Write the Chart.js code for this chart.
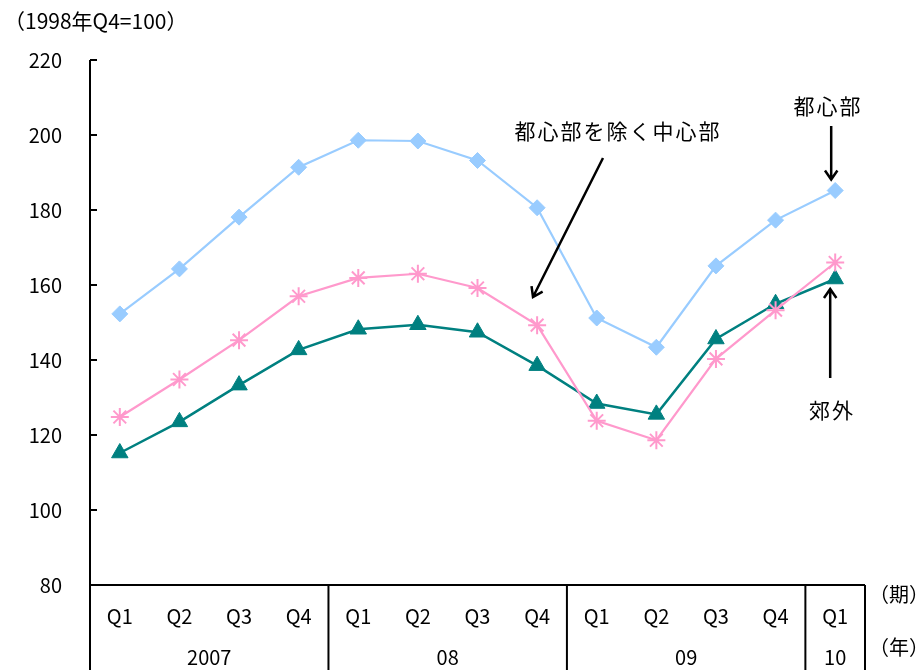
<!DOCTYPE html>
<html>
<head>
<meta charset="utf-8">
<script src="https://cdn.jsdelivr.net/npm/chart.js@4.4.0/dist/chart.umd.min.js"></script>
<style>
    html, body { margin: 0; padding: 0; background: #fff; }
    #wrap { width: 918px; height: 670px; }
</style>
</head>
<body>
<div id="wrap"><canvas id="chart" width="918" height="670"></canvas></div>
<script>
// Quarter labels and year groups (start index, end index)
const quarters = ['Q1', 'Q2', 'Q3', 'Q4', 'Q1', 'Q2', 'Q3', 'Q4', 'Q1', 'Q2', 'Q3', 'Q4', 'Q1'];
const yearLabels = ['2007', '08', '09', '10'];
const yearStarts = [0, 4, 8, 12];
const yearEnds = [3, 7, 11, 12];

// Index values (1998 Q4 = 100)
const toshinbu = [152.3, 164.3, 178.1, 191.4, 198.6, 198.4, 193.2, 180.6, 151.2, 143.4, 165.1, 177.3, 185.2];
const chushinbu = [124.8, 134.8, 145.3, 157.0, 161.9, 163.0, 159.2, 149.3, 123.8, 118.6, 140.3, 153.3, 166.0];
const kogai = [115.2, 123.5, 133.3, 142.7, 148.2, 149.4, 147.4, 138.5, 128.4, 125.5, 145.6, 155.0, 161.6];

const yMin = 80;
const yMax = 220;
const yStep = 20;

const FONT = "'Noto Sans CJK JP', 'Liberation Sans', sans-serif";

function arrow(ctx, x1, y1, x2, y2) {
    const ang = Math.atan2(y2 - y1, x2 - x1);
    const head = 11;
    ctx.beginPath();
    ctx.moveTo(x1, y1);
    ctx.lineTo(x2, y2);
    ctx.moveTo(x2 - head * Math.cos(ang - 0.6), y2 - head * Math.sin(ang - 0.6));
    ctx.lineTo(x2, y2);
    ctx.lineTo(x2 - head * Math.cos(ang + 0.6), y2 - head * Math.sin(ang + 0.6));
    ctx.stroke();
}

// Draws axis lines, inner ticks, year rows and annotations
const decorPlugin = {
    id: 'decor',
    afterDraw(chart) {
        const ctx = chart.ctx;
        const area = chart.chartArea;
        const xs = chart.scales.x;
        const ys = chart.scales.y;
        const catW = (area.right - area.left) / quarters.length;
        const bottom = chart.height;

        ctx.save();
        ctx.strokeStyle = '#000';
        ctx.lineWidth = 2;

        // y axis line, extended down through the category rows
        ctx.beginPath();
        ctx.moveTo(area.left, area.top);
        ctx.lineTo(area.left, bottom);
        ctx.stroke();

        // inner tick marks
        for (let v = yMin; v <= yMax; v += yStep) {
            const y = ys.getPixelForValue(v);
            ctx.beginPath();
            ctx.moveTo(area.left, y);
            ctx.lineTo(area.left + 7, y);
            ctx.stroke();
        }

        // x axis line
        ctx.beginPath();
        ctx.moveTo(area.left, area.bottom);
        ctx.lineTo(area.right, area.bottom);
        ctx.stroke();

        // year separators and labels
        ctx.fillStyle = '#000';
        ctx.font = '20px ' + FONT;
        ctx.textAlign = 'center';
        ctx.textBaseline = 'middle';
        yearLabels.forEach((lab, i) => {
            const x0 = area.left + yearStarts[i] * catW;
            const x1 = area.left + (yearEnds[i] + 1) * catW;
            ctx.beginPath();
            ctx.moveTo(x1, area.bottom);
            ctx.lineTo(x1, bottom);
            ctx.stroke();
            ctx.fillText(lab, (x0 + x1) / 2, 657);
        });

        // unit labels
        ctx.textAlign = 'left';
        ctx.fillText('（期）', area.right + 4, 594);
        ctx.fillText('（年）', area.right + 4, 647);
        ctx.font = '21px ' + FONT;
        ctx.fillText('（1998年Q4=100）', 4, 21);

        // annotations
        ctx.letterSpacing = '2px';
        ctx.textAlign = 'center';
        ctx.fillText('都心部を除く中心部', 618, 131);
        ctx.fillText('都心部', 828, 106);
        ctx.fillText('郊外', 832, 410);
        ctx.letterSpacing = '0px';

        ctx.lineWidth = 2.5;
        const xLast = xs.getPixelForValue(12);
        arrow(ctx, 603, 158, 533, 297);
        arrow(ctx, xLast - 4, 126, xLast - 4, ys.getPixelForValue(toshinbu[12]) - 11);
        arrow(ctx, xLast - 5, 378, xLast - 5, ys.getPixelForValue(kogai[12]) + 10);

        ctx.restore();
    }
};

new Chart(document.getElementById('chart'), {
    type: 'line',
    data: {
        labels: quarters,
        datasets: [
            {
                label: '都心部',
                data: toshinbu,
                borderColor: '#99CCFF',
                backgroundColor: '#99CCFF',
                borderWidth: 2.2,
                pointStyle: 'rectRot',
                pointRadius: 8,
                pointBorderWidth: 1,
                tension: 0
            },
            {
                label: '都心部を除く中心部',
                data: chushinbu,
                borderColor: '#FF99CC',
                backgroundColor: '#FF99CC',
                borderWidth: 2.2,
                pointStyle: 'star',
                pointRadius: 9,
                pointBorderWidth: 2,
                tension: 0
            },
            {
                label: '郊外',
                data: kogai,
                borderColor: '#008080',
                backgroundColor: '#008080',
                borderWidth: 2.5,
                pointStyle: 'triangle',
                pointRadius: 9.5,
                pointBorderWidth: 1,
                tension: 0
            }
        ]
    },
    options: {
        responsive: false,
        animation: false,
        devicePixelRatio: 1,
        layout: { padding: { top: 60, right: 53, left: 0, bottom: 0 } },
        plugins: {
            legend: { display: false },
            tooltip: { enabled: false }
        },
        scales: {
            x: {
                offset: true,
                grid: { display: false, drawTicks: false },
                border: { display: false },
                ticks: {
                    color: '#000',
                    font: { family: FONT, size: 20 },
                    padding: 19,
                    maxRotation: 0,
                    autoSkip: false
                },
                afterFit(scale) { scale.height = 85; }
            },
            y: {
                min: yMin,
                max: yMax,
                grid: { display: false, drawTicks: false },
                border: { display: false },
                ticks: {
                    stepSize: yStep,
                    color: '#000',
                    font: { family: FONT, size: 20 },
                    padding: 28
                },
                afterFit(scale) { scale.width = 90; }
            }
        }
    },
    plugins: [decorPlugin]
});
</script>
</body>
</html>
